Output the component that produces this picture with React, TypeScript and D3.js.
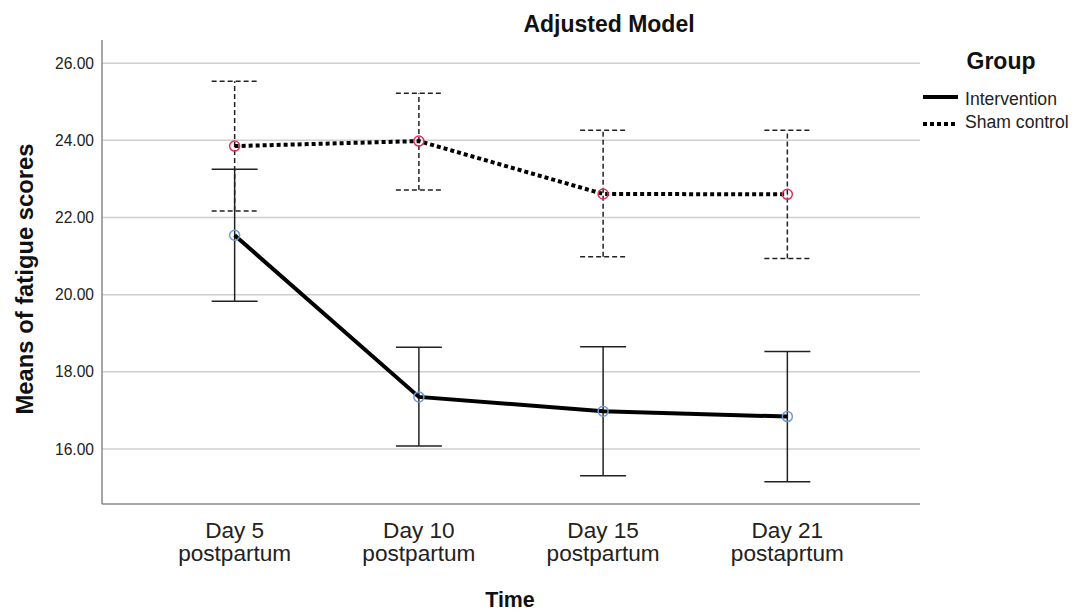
import React from "react";
import * as d3 from "d3";

const categories = ["Day 5|postpartum", "Day 10|postpartum", "Day 15|postpartum", "Day 21|postaprtum"];
const interventionMean = [21.54, 17.35, 16.98, 16.84];
const interventionLower = [19.83, 16.08, 15.31, 15.15];
const interventionUpper = [23.25, 18.64, 18.65, 18.53];
const shamMean = [23.85, 23.98, 22.61, 22.6];
const shamLower = [22.17, 22.71, 20.98, 20.94];
const shamUpper = [25.53, 25.22, 24.26, 24.26];
const yTicks = [16, 18, 20, 22, 24, 26];

const W = 1079;
const H = 612;
const left = 102;
const right = 920;
const top = 40;
const bottom = 504;
const FONT = "'Liberation Sans', Arial, sans-serif";

export default function App() {
  const x = d3.scalePoint<string>().domain(categories).range([left, right]).padding(0.72);
  const y = d3.scaleLinear().domain([14.575, 26.6]).range([bottom, top]);
  const line = d3
    .line<number>()
    .x((_, i) => x(categories[i]) as number)
    .y((d) => y(d));
  const cap = 23;

  const series = [
    { mean: interventionMean, lo: interventionLower, hi: interventionUpper, dash: undefined, lineDash: undefined, marker: "#6a9ad8", key: "int" },
    { mean: shamMean, lo: shamLower, hi: shamUpper, dash: "5,3", lineDash: "4,3", marker: "#e0305a", key: "sham" },
  ];

  return (
    <svg width={W} height={H} style={{ position: "absolute", left: 0, top: 0, background: "#fff" }} fontFamily={FONT}>
      <rect width={W} height={H} fill="#fff" />
      {yTicks.map((t) => (
        <g key={t}>
          <line x1={left} x2={right} y1={y(t)} y2={y(t)} stroke="#cfcfcf" strokeWidth={1.5} />
          <text x={left - 8} y={y(t)} dy="0.36em" textAnchor="end" fontSize={15.6} fill="#222">
            {t.toFixed(2)}
          </text>
        </g>
      ))}
      <line x1={left} x2={left} y1={top} y2={bottom} stroke="#888" strokeWidth={1.5} />
      <line x1={left} x2={right} y1={bottom} y2={bottom} stroke="#888" strokeWidth={1.5} />
      {categories.map((c) => {
        const [a, b] = c.split("|");
        return (
          <text key={c} x={x(c)} y={538} textAnchor="middle" fontSize={22.6} fill="#222">
            <tspan x={x(c)}>{a}</tspan>
            <tspan x={x(c)} dy={23}>{b}</tspan>
          </text>
        );
      })}
      {series.map((s) => (
        <g key={s.key}>
          {categories.map((c, i) => {
            const cx = x(c) as number;
            return (
              <g key={c} stroke="#222" strokeWidth={1.5} strokeDasharray={s.dash}>
                <line x1={cx} x2={cx} y1={y(s.lo[i])} y2={y(s.hi[i])} />
                <line x1={cx - cap} x2={cx + cap} y1={y(s.lo[i])} y2={y(s.lo[i])} />
                <line x1={cx - cap} x2={cx + cap} y1={y(s.hi[i])} y2={y(s.hi[i])} />
              </g>
            );
          })}
        </g>
      ))}
      {series.map((s) => (
        <g key={s.key + "l"}>
          <path d={line(s.mean) || ""} fill="none" stroke="#000" strokeWidth={4} strokeDasharray={s.lineDash} />
          {s.mean.map((v, i) => (
            <circle key={i} cx={x(categories[i])} cy={y(v)} r={5} fill="none" stroke={s.marker} strokeWidth={1.5} />
          ))}
        </g>
      ))}
      <text x={609} y={32} textAnchor="middle" fontSize={23} fontWeight="bold" fill="#111">
        Adjusted Model
      </text>
      <text transform={`translate(33,279) rotate(-90)`} textAnchor="middle" fontSize={23.8} fontWeight="bold" fill="#111">
        Means of fatigue scores
      </text>
      <text x={510} y={607} textAnchor="middle" fontSize={21.4} fontWeight="bold" fill="#111">
        Time
      </text>
      <text x={1001} y={69} textAnchor="middle" fontSize={23} fontWeight="bold" fill="#111">
        Group
      </text>
      <line x1={923} x2={958} y1={97} y2={97} stroke="#000" strokeWidth={4} />
      <text x={965} y={105} fontSize={17.6} fill="#222">Intervention</text>
      <line x1={923} x2={958} y1={124} y2={124} stroke="#000" strokeWidth={4} strokeDasharray="4,3" />
      <text x={965} y={128} fontSize={17.6} fill="#222">Sham control</text>
    </svg>
  );
}
